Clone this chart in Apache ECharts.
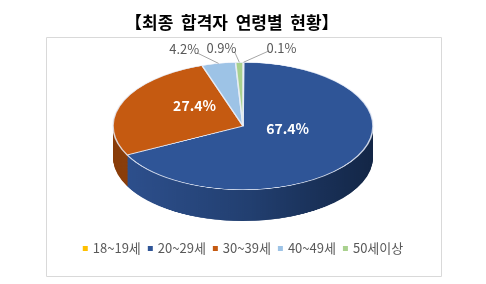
<!DOCTYPE html>
<html><head><meta charset="utf-8">
<script src="https://cdn.jsdelivr.net/npm/echarts@6/dist/echarts.min.js"></script>
<style>
html,body{margin:0;padding:0;background:#fff;width:486px;height:284px;overflow:hidden}
#wrap{position:relative;width:486px;height:284px}
#pie{position:absolute;left:0;top:-100px;width:486px;height:500px;transform-origin:50% 226px;transform:scaleY(0.49)}
#main{position:absolute;left:0;top:0;width:486px;height:284px}
</style></head><body>
<div id="wrap"><div id="pie"></div><div id="main"></div></div>
<script>
// ---- data ----
const titleText = '【최종  합격자  연령별  현황】';
const categories = ['18~19세', '20~29세', '30~39세', '40~49세', '50세이상'];
const values = [0.1, 67.4, 27.4, 4.2, 0.9];
const topColors = ['#FFC000', '#2F5597', '#C55A11', '#9DC3E6', '#A9D18E'];

// ---- style ----
const FONT = 'Noto Sans CJK KR';
const S = 0.49;          // vertical squash of the pie disc
const CX = 243, CY = 126, R = 130;
const DEPTH = 64;        // side height in unsquashed px
const blueSide = new echarts.graphic.LinearGradient(0, 0, 1, 0, [
  {offset: 0, color: '#2D4F8C'}, {offset: 0.5, color: '#223F70'}, {offset: 1, color: '#132646'}
]);
const sideColors = ['#B38600', blueSide, '#8A3E0B', '#6E8AA3', '#76925F'];

// ---- chart A: the squashed 3D disc ----
const pieA = echarts.init(document.getElementById('pie'), null, {renderer: 'canvas'});
const seriesA = [];
const PCY = 226; // centre inside the taller, squashed div
for (let k = DEPTH; k > 0; k -= 1.5) {
  seriesA.push({
    type: 'pie', center: [CX, PCY + k], radius: R, startAngle: 90, silent: true,
    label: {show: false}, labelLine: {show: false}, emphasis: {disabled: true},
    itemStyle: {borderWidth: 0},
    data: values.map((v, i) => ({value: v, name: categories[i], itemStyle: {color: sideColors[i]}}))
  });
}
seriesA.push({
  type: 'pie', center: [CX, PCY], radius: R, startAngle: 90, silent: true,
  label: {show: false}, labelLine: {show: false}, emphasis: {disabled: true},
  itemStyle: {borderWidth: 1.6, borderColor: 'rgba(235,240,250,0.85)'},
  data: values.map((v, i) => ({value: v, name: categories[i], itemStyle: {color: topColors[i]}}))
});
pieA.setOption({animation: false, series: seriesA});

// ---- chart B: title, legend, labels ----
// map label positions (and leader lines) onto the squashed disc
function squashLayout(cy) {
  return function (p) {
    const r = p.labelRect;
    const c = r.y + r.height / 2;
    const dy = (cy + (c - cy) * S) - c;
    const out = {dy: dy};
    const pts = p.labelLinePoints;
    if (pts && pts.length) {
      const p0 = [pts[0][0], cy + (pts[0][1] - cy) * S];
      const leftOf = r.x + r.width / 2 < p0[0];
      const end = [leftOf ? r.x + r.width - 2 : r.x + 2, r.y + dy + r.height - 3];
      out.labelLinePoints = [p0, end, end];
    }
    return out;
  };
}
const outsideIdx = [0, 3, 4];
const lineLen = {0: [30, 18, 5], 3: [29, 9, 5], 4: [29, 0, 2]};
const main = echarts.init(document.getElementById('main'), null, {renderer: 'canvas'});
main.setOption({
  animation: false,
  title: {
    text: titleText, left: 125, top: 14, padding: 0,
    textStyle: {fontFamily: FONT, fontSize: 17, fontWeight: 'bold', color: '#000'}
  },
  graphic: [{
    type: 'rect', silent: true,
    shape: {x: 46.5, y: 37.5, width: 395, height: 239},
    style: {fill: 'none', stroke: '#D9D9D9', lineWidth: 1}
  }],
  legend: {
    data: categories.map((c, i) => ({name: c, itemStyle: {color: topColors[i]}})),
    icon: 'rect', itemWidth: 5, itemHeight: 5, itemGap: 7,
    left: 'center', top: 237, selectedMode: false,
    textStyle: {fontFamily: FONT, fontSize: 13, color: '#595959'}
  },
  series: [{
    type: 'pie', center: [CX, CY], radius: R, startAngle: 90, silent: true,
    avoidLabelOverlap: false, emphasis: {disabled: true},
    itemStyle: {color: 'rgba(0,0,0,0)'},
    labelLayout: squashLayout(CY),
    data: values.map((v, i) => {
      const out = outsideIdx.indexOf(i) >= 0;
      return {
        value: v, name: categories[i],
        label: {
          show: out, position: 'outside', formatter: p => p.value.toFixed(1) + '%',
          distanceToLabelLine: out ? lineLen[i][2] : 5,
          fontFamily: FONT, fontSize: 13, color: '#595959'
        },
        labelLine: out ? {show: true, length: lineLen[i][0], length2: lineLen[i][1],
          lineStyle: {color: '#A6A6A6', width: 1}} : {show: false}
      };
    })
  }, {
    type: 'pie', center: [CX, 115], radius: [0, R * 0.76], startAngle: 90, silent: true,
    avoidLabelOverlap: false, emphasis: {disabled: true},
    itemStyle: {color: 'rgba(0,0,0,0)'},
    labelLayout: squashLayout(115),
    data: values.map((v, i) => ({
      value: v, name: categories[i],
      label: {
        show: outsideIdx.indexOf(i) < 0, position: 'inside', formatter: p => p.value.toFixed(1) + '%',
        fontFamily: FONT, fontSize: 14, fontWeight: 'bold', color: '#FFFFFF'
      },
      labelLine: {show: false}
    }))
  }]
});
</script>
</body></html>
